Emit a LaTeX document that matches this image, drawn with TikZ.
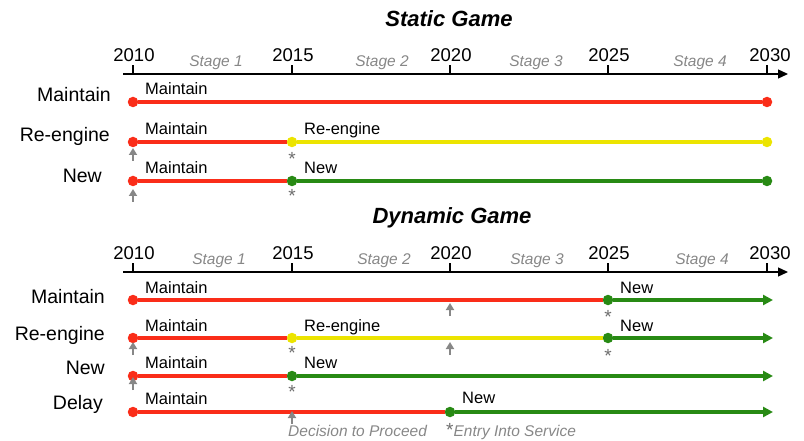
\documentclass[tikz,border=0pt]{standalone}
\usepackage{fontspec}
\setmainfont{Liberation Sans}
\usetikzlibrary{arrows.meta}
\definecolor{lred}{RGB}{250,45,25}
\definecolor{lyellow}{RGB}{236,228,0}
\definecolor{lgreen}{RGB}{40,138,20}
\definecolor{lgray}{RGB}{135,135,135}
\definecolor{dgray}{RGB}{110,110,110}
\tikzstyle{title}=[font=\fontsize{22}{24}\selectfont\bfseries\itshape, anchor=base, inner sep=0pt]
\tikzstyle{year}=[font=\fontsize{18.5}{20}\selectfont, anchor=base, inner sep=0pt]
\tikzstyle{stage}=[font=\fontsize{15.5}{18}\selectfont\itshape, text=lgray, anchor=base, inner sep=0pt]
\tikzstyle{option}=[font=\fontsize{19.5}{21}\selectfont, anchor=base east, inner sep=0pt]
\tikzstyle{act}=[font=\fontsize{16.5}{18}\selectfont, anchor=base west, inner sep=0pt]
\tikzstyle{dot}=[circle, inner sep=0pt, minimum size=10.5pt]
\tikzstyle{track}=[line width=3.3pt]
\tikzstyle{ongoing}=[-{Triangle[width=10pt,length=10pt]}]
\tikzstyle{axis}=[line width=1.3pt, -{Triangle[width=9pt,length=10pt]}]
\tikzstyle{tick}=[line width=1.3pt]
\tikzstyle{decide}=[lgray, line width=2.2pt, -{Triangle[width=8pt,length=7pt]}]
\tikzstyle{eis}=[font=\fontsize{19}{20}\selectfont, text=dgray, anchor=base, inner sep=0pt]
\tikzstyle{note}=[font=\fontsize{15.5}{18}\selectfont\itshape, text=lgray, anchor=base west, inner sep=0pt]

\begin{document}
\begin{tikzpicture}[x=1pt,y=-1pt]
	\useasboundingbox (0,0) rectangle (804,441);
	% static game
	\node[title] (stitle) at (449,27) {Static Game};
	\coordinate (saxis0) at (123,74);
	\coordinate (saxis1) at (788,74);
	\draw[axis] (saxis0) -- (saxis1);
	\draw[tick] (133,74) -- (133,65);
	\draw[tick] (292,74) -- (292,65);
	\draw[tick] (450,74) -- (450,65);
	\draw[tick] (608,74) -- (608,65);
	\draw[tick] (767,74) -- (767,65);
	\node[year] (s2010) at (134,62) {2010};
	\node[year] (s2015) at (293,62) {2015};
	\node[year] (s2020) at (451,62) {2020};
	\node[year] (s2025) at (609,62) {2025};
	\node[year] (s2030) at (770,62) {2030};
	\node[stage] (sstage1) at (216,67) {Stage 1};
	\node[stage] (sstage2) at (382,67) {Stage 2};
	\node[stage] (sstage3) at (536,67) {Stage 3};
	\node[stage] (sstage4) at (700,67) {Stage 4};
	% maintain
	\node[option] (smaintain) at (111,102) {Maintain};
	\node[dot, fill=lred] (sm0) at (133,102) {};
	\node[dot, fill=lred] (sm1) at (767,102) {};
	\draw[track, lred] (sm0) -- (sm1);
	\node[act] (smact0) at (145,95) {Maintain};
	% re-engine
	\node[option] (sreengine) at (110,141.5) {Re-engine};
	\node[dot, fill=lred] (sr0) at (133,142) {};
	\node[dot, fill=lyellow] (sr1) at (292,142) {};
	\node[dot, fill=lyellow] (sr2) at (767,142) {};
	\draw[track, lred] (sr0) -- (sr1);
	\draw[track, lyellow] (sr1) -- (sr2);
	\node[act] (sract0) at (145,135) {Maintain};
	\node[act] (sract1) at (304,135) {Re-engine};
	\draw[decide] (133,161) -- (133,148);
	\node[eis] (srstar) at (292,166) {*};
	% new
	\node[option] (snew) at (102,183) {New};
	\node[dot, fill=lred] (sn0) at (133,181) {};
	\node[dot, fill=lgreen] (sn1) at (292,181) {};
	\node[dot, fill=lgreen] (sn2) at (767,181) {};
	\draw[track, lred] (sn0) -- (sn1);
	\draw[track, lgreen] (sn1) -- (sn2);
	\node[act] (snact0) at (145,174) {Maintain};
	\node[act] (snact1) at (304,174) {New};
	\draw[decide] (133,202) -- (133,189);
	\node[eis] (snstar) at (292,203) {*};

	% dynamic game
	\node[title] (dtitle) at (452,223) {Dynamic Game};
	\coordinate (daxis0) at (123,272);
	\coordinate (daxis1) at (788,272);
	\draw[axis] (daxis0) -- (daxis1);
	\draw[tick] (133,272) -- (133,263);
	\draw[tick] (292,272) -- (292,263);
	\draw[tick] (450,272) -- (450,263);
	\draw[tick] (608,272) -- (608,263);
	\draw[tick] (767,272) -- (767,263);
	\node[year] (d2010) at (134,259) {2010};
	\node[year] (d2015) at (293,259) {2015};
	\node[year] (d2020) at (451,259) {2020};
	\node[year] (d2025) at (609,259) {2025};
	\node[year] (d2030) at (770,259) {2030};
	\node[stage] (dstage1) at (219,264) {Stage 1};
	\node[stage] (dstage2) at (384,264) {Stage 2};
	\node[stage] (dstage3) at (537,264) {Stage 3};
	\node[stage] (dstage4) at (702,264) {Stage 4};
	% maintain
	\node[option] (dmaintain) at (105,303) {Maintain};
	\node[dot, fill=lred] (dm0) at (133,300) {};
	\node[dot, fill=lgreen] (dm1) at (608,300) {};
	\coordinate (dm2) at (773,300);
	\draw[track, lred] (dm0) -- (dm1);
	\draw[track, lgreen, ongoing] (dm1) -- (dm2);
	\node[act] (dmact0) at (145,293) {Maintain};
	\node[act] (dmact1) at (620,293) {New};
	\draw[decide] (450,316) -- (450,303);
	\node[eis] (dmstar) at (608,323) {*};
	% re-engine
	\node[option] (dreengine) at (105,340) {Re-engine};
	\node[dot, fill=lred] (dr0) at (133,338) {};
	\node[dot, fill=lyellow] (dr1) at (292,338) {};
	\node[dot, fill=lgreen] (dr2) at (608,338) {};
	\coordinate (dr3) at (773,338);
	\draw[track, lred] (dr0) -- (dr1);
	\draw[track, lyellow] (dr1) -- (dr2);
	\draw[track, lgreen, ongoing] (dr2) -- (dr3);
	\node[act] (dract0) at (145,331) {Maintain};
	\node[act] (dract1) at (304,331) {Re-engine};
	\node[act] (dract2) at (620,331) {New};
	\draw[decide] (133,355) -- (133,342);
	\draw[decide] (450,355) -- (450,342);
	\node[eis] (drstar0) at (292,359) {*};
	\node[eis] (drstar1) at (608,362) {*};
	% new
	\node[option] (dnew) at (105,374) {New};
	\node[dot, fill=lred] (dn0) at (133,376) {};
	\node[dot, fill=lgreen] (dn1) at (292,376) {};
	\coordinate (dn2) at (773,376);
	\draw[track, lred] (dn0) -- (dn1);
	\draw[track, lgreen, ongoing] (dn1) -- (dn2);
	\node[act] (dnact0) at (145,368) {Maintain};
	\node[act] (dnact1) at (304,368) {New};
	\draw[decide] (133,390) -- (133,377);
	\node[eis] (dnstar) at (292,398) {*};
	% delay
	\node[option] (ddelay) at (103,409) {Delay};
	\node[dot, fill=lred] (dd0) at (133,412) {};
	\node[dot, fill=lgreen] (dd1) at (450,412) {};
	\coordinate (dd2) at (773,412);
	\draw[track, lred] (dd0) -- (dd1);
	\draw[track, lgreen, ongoing] (dd1) -- (dd2);
	\node[act] (ddact0) at (145,404) {Maintain};
	\node[act] (ddact1) at (462,403) {New};
	\draw[decide] (292,424) -- (292,411);
	\node[note] (decision) at (288,436) {Decision to Proceed};
	\node[note] (entry) at (446,436) {{\upshape\color{dgray}\fontsize{19}{20}\selectfont *}Entry Into Service};
\end{tikzpicture}
\end{document}
